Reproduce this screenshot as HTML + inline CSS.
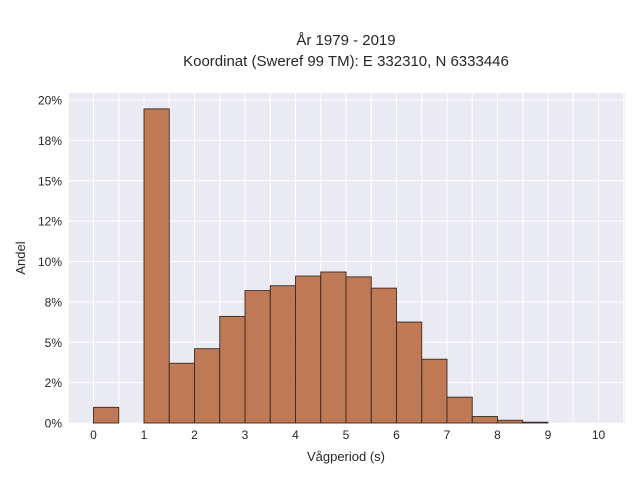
<!DOCTYPE html>
<html><head><meta charset="utf-8"><style>
body{margin:0;background:#fff;width:640px;height:480px;overflow:hidden;font-family:"Liberation Sans",sans-serif;}
svg text{font-family:"Liberation Sans",sans-serif;fill:#262626;}
</style></head><body>
<svg width="640" height="480">
<g id="grid"></g><g id="bars"></g><g id="ticks"></g>
<text x="346" y="45" text-anchor="middle" font-size="15">År 1979 - 2019</text>
<text x="346" y="66" text-anchor="middle" font-size="15">Koordinat (Sweref 99 TM): E 332310, N 6333446</text>
<text x="346" y="461" text-anchor="middle" font-size="13">Vågperiod (s)</text>
<text x="25" y="258" text-anchor="middle" font-size="13" transform="rotate(-90 25 258)">Andel</text>
</svg>
<script>
const binStarts=[0,0.5,1,1.5,2,2.5,3,3.5,4,4.5,5,5.5,6,6.5,7,7.5,8,8.5,9,9.5];
const shares=[0.97,0,19.45,3.7,4.6,6.6,8.2,8.5,9.1,9.35,9.05,8.35,6.25,3.95,1.6,0.4,0.17,0.05,0,0];
const xTicks=[0,1,2,3,4,5,6,7,8,9,10];
const yTickVals=[0,2.5,5,7.5,10,12.5,15,17.5,20];
const yTickLabels=["0%","2%","5%","8%","10%","12%","15%","18%","20%"];
const NS="http://www.w3.org/2000/svg";
const L=68,R=625,T=93,B=423;
const xs=v=>93.5+v*50.5, ys=v=>423-v*16.15;
function mk(tag,attrs,parent){const e=document.createElementNS(NS,tag);for(const k in attrs)e.setAttribute(k,attrs[k]);parent.appendChild(e);return e;}
const svg=document.querySelector('svg');
const grid=document.getElementById('grid'),bars=document.getElementById('bars'),ticks=document.getElementById('ticks');
const bg=mk('rect',{x:L,y:T,width:R-L,height:B-T,fill:'#eaeaf2'},grid);


for(let v=-0.5;v<=10.5;v+=0.5){const x=xs(v);if(x<L||x>R)continue;
 const g=mk('line',{x1:x,x2:x,y1:T,y2:B,stroke:'#fff','stroke-width':1},grid);
 
 }
yTickVals.forEach((v,i)=>{const y=ys(v);
 const g=mk('line',{x1:L,x2:R,y1:y,y2:y,stroke:'#fff','stroke-width':1},grid);
 
 
 const t=mk('text',{x:62,y:y+4.5,'text-anchor':'end','font-size':12},ticks);t.textContent=yTickLabels[i];
 
 });
xTicks.forEach(v=>{const t=mk('text',{x:xs(v),y:439,'text-anchor':'middle','font-size':12},ticks);t.textContent=v;
 
 });
binStarts.forEach((s,i)=>{const h=shares[i];if(h<=0)return;
 const r=mk('rect',{x:xs(s),y:ys(h),width:xs(s+0.5)-xs(s),height:B-ys(h),fill:'#b8693f','fill-opacity':0.88,stroke:'#3a2a22','stroke-width':0.9},bars);
 
 });
</script>
</body></html>
